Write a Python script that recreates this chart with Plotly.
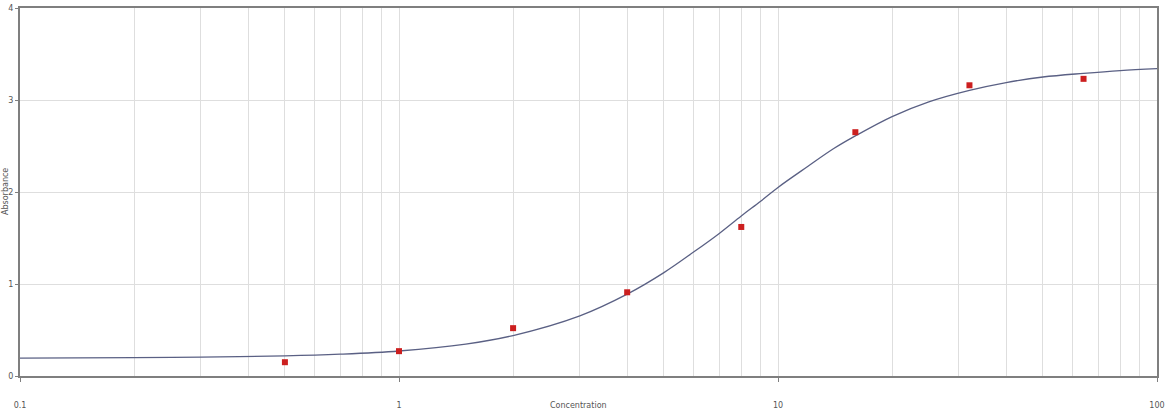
import plotly.graph_objects as go

# Measured standards
conc_points = [0.5, 1, 2, 4, 8, 16, 32, 64]
abs_points = [0.15, 0.27, 0.52, 0.91, 1.62, 2.65, 3.16, 3.23]

# Fitted curve
conc_curve = [0.1, 0.2, 0.3, 0.5, 0.7, 1, 1.5, 2, 3, 4, 5, 6, 7, 8, 9, 10, 12, 14, 16, 20, 25, 32, 40, 50, 64, 80, 100]
abs_curve = [0.195, 0.200, 0.205, 0.218, 0.237, 0.272, 0.347, 0.44, 0.654, 0.89, 1.124, 1.35, 1.55, 1.74, 1.90, 2.05, 2.28, 2.47, 2.61, 2.82, 2.98, 3.105, 3.19, 3.25, 3.29, 3.32, 3.34]

# Ticks / grid
x_major = [0.1, 1, 10, 100]
x_major_labels = ["0.1", "1", "10", "100"]
x_minor = [0.2, 0.3, 0.4, 0.5, 0.6, 0.7, 0.8, 0.9,
           2, 3, 4, 5, 6, 7, 8, 9,
           20, 30, 40, 50, 60, 70, 80, 90]
y_ticks = [0, 1, 2, 3, 4]

TXT = "#555555"
GRID = "#dedede"
AXIS = "#7f7f7f"

fig = go.Figure()
fig.add_trace(go.Scatter(
    x=conc_curve, y=abs_curve, mode="lines", line_shape="spline",
    line=dict(color="#5a6084", width=1.3), hoverinfo="skip", showlegend=False))
fig.add_trace(go.Scatter(
    x=conc_points, y=abs_points, mode="markers",
    marker=dict(symbol="square", size=6, color="#cc1f1f"), showlegend=False))

fig.update_layout(
    width=1166, height=411,
    margin=dict(l=20, r=9, t=8, b=35),
    paper_bgcolor="white", plot_bgcolor="white",
    font=dict(family="DejaVu Sans", size=8, color=TXT),
    annotations=[
        dict(text="Concentration", xref="paper", yref="paper", x=0.5, y=0,
             xanchor="center", yanchor="top", yshift=-23, xshift=-10, showarrow=False,
             font=dict(size=8, color=TXT)),
        dict(text="Absorbance", xref="paper", yref="paper", x=0, y=0.5,
             xanchor="center", yanchor="middle", xshift=-15, textangle=-90,
             showarrow=False, font=dict(size=8, color=TXT)),
    ],
)
fig.update_xaxes(
    type="log", range=[-1, 2], automargin=False,
    tickmode="array", tickvals=x_major, ticktext=x_major_labels,
    showgrid=True, gridcolor=GRID, gridwidth=1,
    minor=dict(tickmode="array", tickvals=x_minor, showgrid=True,
               gridcolor=GRID, gridwidth=1, ticks=""),
    showline=True, linecolor=AXIS, linewidth=2, mirror=True,
    ticks="outside", ticklen=4, tickcolor=AXIS, tickwidth=1,
    ticklabelstandoff=16,
    tickfont=dict(size=8, color=TXT),
    zeroline=False,
)
fig.update_yaxes(
    range=[0, 4], automargin=False, tickmode="array", tickvals=y_ticks,
    showgrid=True, gridcolor=GRID, gridwidth=1,
    showline=True, linecolor=AXIS, linewidth=2, mirror=True,
    ticks="outside", ticklen=3, tickcolor=AXIS,
    tickfont=dict(size=8, color=TXT),
    zeroline=False,
)
fig.write_html("out.html", config={"displayModeBar": False},
               post_script="document.body.style.margin='0';")
